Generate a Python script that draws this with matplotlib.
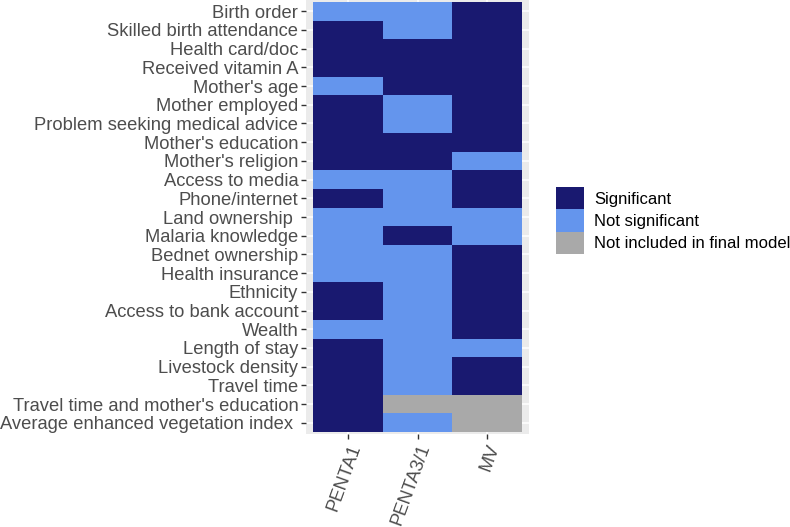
import numpy as np
import matplotlib.pyplot as plt
from matplotlib.colors import ListedColormap
from matplotlib.patches import Patch

plt.rcParams['font.family'] = ['Liberation Sans', 'DejaVu Sans']

# model columns and covariate rows (top to bottom)
models = ['PENTA1', 'PENTA3/1', 'MV']
variables = ['Birth order', 'Skilled birth attendance', 'Health card/doc',
             'Received vitamin A', "Mother's age", 'Mother employed',
             'Problem seeking medical advice', "Mother's education",
             "Mother's religion", 'Access to media', 'Phone/internet',
             'Land ownership ', 'Malaria knowledge', 'Bednet ownership',
             'Health insurance', 'Ethnicity', 'Access to bank account',
             'Wealth', 'Length of stay', 'Livestock density', 'Travel time',
             "Travel time and mother's education",
             'Average enhanced vegetation index ']

# S = significant, N = not significant, X = not included in final model
penta1 = ['N', 'S', 'S', 'S', 'N', 'S', 'S', 'S', 'S', 'N', 'S', 'N',
          'N', 'N', 'N', 'S', 'S', 'N', 'S', 'S', 'S', 'S', 'S']
penta31 = ['N', 'N', 'S', 'S', 'S', 'N', 'N', 'S', 'S', 'N', 'N', 'N',
           'S', 'N', 'N', 'N', 'N', 'N', 'N', 'N', 'N', 'X', 'N']
mv = ['S', 'S', 'S', 'S', 'S', 'S', 'S', 'S', 'N', 'S', 'S', 'N',
      'N', 'S', 'S', 'S', 'S', 'S', 'N', 'S', 'S', 'X', 'X']

levels = ['S', 'N', 'X']
level_names = ['Significant', 'Not significant', 'Not included in final model']
colors = ['#191970', '#6495ED', '#A9A9A9']

grid = np.array([[levels.index(v) for v in col] for col in (penta1, penta31, mv)]).T
n_rows = len(variables)
# row 0 (Birth order) goes at the top
grid = grid[::-1]

fig = plt.figure(figsize=(7.9, 5.27), dpi=100)
ax = fig.add_axes([306 / 790, 1 - 434 / 527, 223 / 790, 434 / 527])
ax.set_facecolor('#EBEBEB')

xe = np.arange(len(models) + 1) + 0.5
ye = np.arange(n_rows + 1) + 0.5
ax.pcolormesh(xe, ye, grid, cmap=ListedColormap(colors), vmin=-0.5, vmax=2.5,
              zorder=2)

ax.set_xlim(0.4, len(models) + 0.6)
ax.set_ylim(0.4, n_rows + 0.6)
ax.set_xticks(np.arange(1, len(models) + 1))
ax.set_xticklabels(models, rotation=70, ha='right', rotation_mode='anchor')
ax.set_yticks(np.arange(1, n_rows + 1))
ax.set_yticklabels(variables[::-1])
ax.grid(True, color='white', linewidth=1.1, zorder=1)
ax.set_axisbelow(True)
for s in ax.spines.values():
    s.set_visible(False)
ax.tick_params(axis='both', colors='#333333', labelcolor='#4D4D4D',
               labelsize=13.2, length=3.5, width=1, pad=2)

handles = [Patch(facecolor=c, edgecolor='none', label=l)
           for c, l in zip(colors, level_names)]
fig.legend(handles=handles, loc='center left',
           bbox_to_anchor=(556 / 790, 1 - 220.5 / 527), frameon=False,
           fontsize=12, handlelength=1.68, handleheight=1.68,
           labelspacing=0, handletextpad=0.6, borderpad=0, borderaxespad=0)

fig.savefig('out.png', dpi=100)
